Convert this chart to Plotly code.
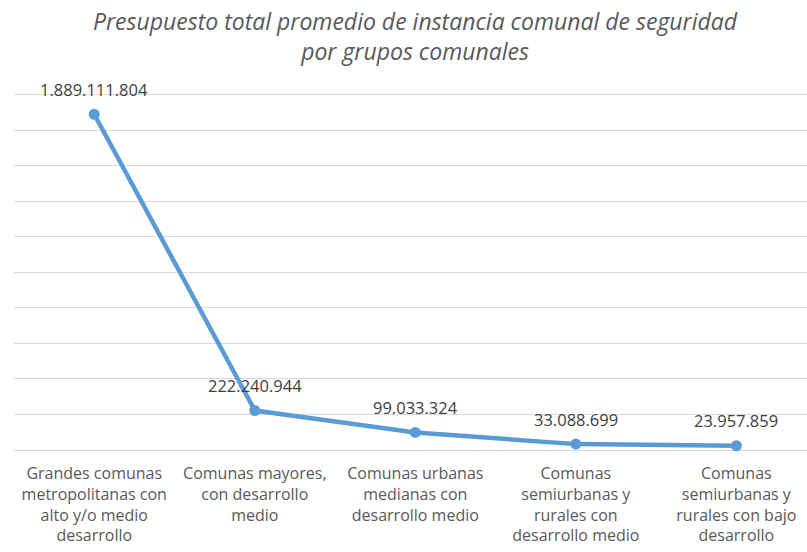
import plotly.graph_objects as go

categories = [
    "Grandes comunas<br>metropolitanas con<br>alto y/o medio<br>desarrollo",
    "Comunas mayores,<br>con desarrollo<br>medio",
    "Comunas urbanas<br>medianas con<br>desarrollo medio",
    "Comunas<br>semiurbanas y<br>rurales con<br>desarrollo medio",
    "Comunas<br>semiurbanas y<br>rurales con bajo<br>desarrollo",
]
values = [1889111804, 222240944, 99033324, 33088699, 23957859]
labels = ["1.889.111.804", "222.240.944", "99.033.324", "33.088.699", "23.957.859"]

x_idx = list(range(len(values)))

fig = go.Figure()
fig.add_trace(go.Scatter(
    x=x_idx, y=values,
    mode="lines+markers",
    line=dict(color="#5B9BD5", width=4.5),
    marker=dict(color="#5B9BD5", size=11),
    cliponaxis=False,
    hoverinfo="skip",
))

for xi, v, lab in zip(x_idx, values, labels):
    fig.add_annotation(
        x=xi, y=v, text=lab, showarrow=False,
        xanchor="center", yanchor="middle", yshift=25,
        font=dict(family="Open Sans, sans-serif", size=16.5, color="#404040"),
    )

fig.add_annotation(
    text="Presupuesto total promedio de instancia comunal de seguridad<br>por grupos comunales",
    xref="paper", yref="paper", x=0.506, y=(450 - 36) / 359,
    xanchor="center", yanchor="middle", showarrow=False,
    font=dict(family="Open Sans, sans-serif", size=23, color="#595959", style="italic"),
)

fig.update_layout(
    width=807, height=552,
    margin=dict(l=14, r=0, t=91, b=102, autoexpand=False),
    paper_bgcolor="white", plot_bgcolor="white",
    showlegend=False,
    xaxis=dict(
        range=[-0.5, 4.44], automargin=False,
        tickmode="array", tickvals=x_idx, ticktext=categories,
        showgrid=False, zeroline=False, showline=False, ticks="",
        ticklabelstandoff=12,
        tickfont=dict(family="Open Sans, sans-serif", size=16, color="#595959"),
    ),
    yaxis=dict(
        range=[0, 2.02e9], dtick=2e8, tick0=0, automargin=False,
        showticklabels=False, showgrid=True, gridcolor="#D9D9D9", gridwidth=1,
        zeroline=True, zerolinecolor="#D9D9D9", zerolinewidth=1,
        showline=False, ticks="",
    ),
)

fig.write_html("out.html", config={"displayModeBar": False},
               post_script="document.body.style.margin='0';")
